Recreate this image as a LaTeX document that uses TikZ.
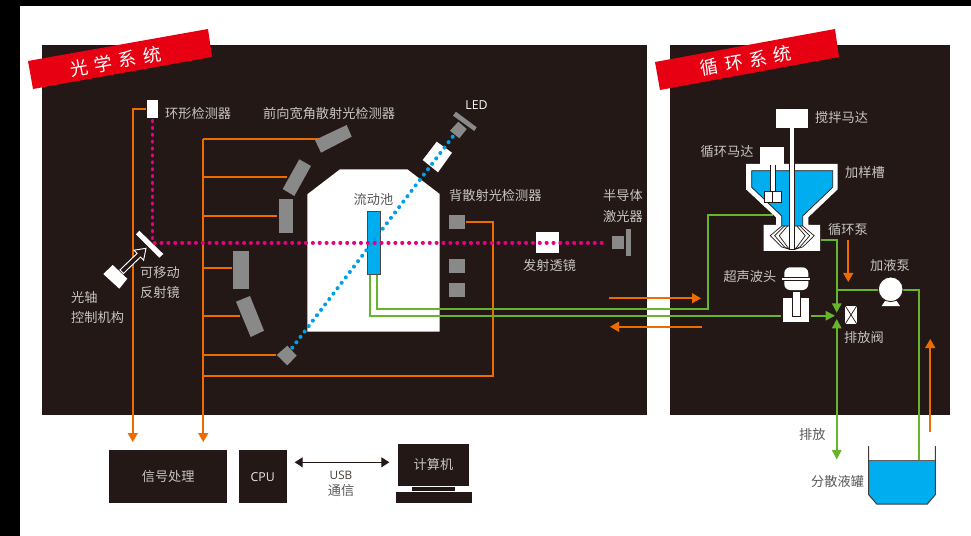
\documentclass[tikz,border=0pt]{standalone}
\usepackage{fontspec}
\setmainfont{Noto Sans CJK SC}
\newfontfamily\latinfont{Open Sans}
\usetikzlibrary{arrows.meta}
\definecolor{panelbg}{HTML}{231815}
\definecolor{tagred}{HTML}{E60012}
\definecolor{detgray}{HTML}{898989}
\definecolor{labgray}{HTML}{C6C4C3}
\definecolor{inkgray}{HTML}{595757}
\definecolor{wireorange}{HTML}{ED6C00}
\definecolor{wiregreen}{HTML}{67B42D}
\definecolor{beamred}{HTML}{E4007F}
\definecolor{beamblue}{HTML}{00A0E9}
\definecolor{cellblue}{HTML}{00AEEF}
\tikzset{
    lab/.style={inner sep=0pt, text=labgray, align=left, font=\fontsize{11.25}{17.9}\selectfont},
    inklab/.style={lab, text=inkgray},
    taglab/.style={inner sep=0pt, text=white, rotate=10, font=\fontsize{15.5}{18}\selectfont},
    panel/.style={fill=panelbg, draw=none},
    tag/.style={fill=tagred, draw=none},
    detector/.style={fill=detgray, draw=none},
    whitepart/.style={fill=white, draw=none},
    outlined/.style={fill=white, draw=panelbg, line width=0.6pt},
    orangeline/.style={draw=wireorange, line width=1.3pt},
    greenline/.style={draw=wiregreen, line width=1.3pt},
    orangetip/.style={-{Triangle[length=0.27cm, width=0.3cm]}},
    greentip/.style={-{Triangle[length=0.28cm, width=0.28cm]}},
    redbeam/.style={draw=beamred, line width=3.4pt, line cap=round, dash pattern=on 0.1pt off 5.77pt},
    bluebeam/.style={draw=beamblue, line width=3.4pt, line cap=round, dash pattern=on 0.1pt off 5.7pt},
    blackbox/.style={fill=panelbg, draw=none, inner sep=0pt, text=labgray, font=\fontsize{11.25}{14}\selectfont},
}
\begin{document}
\begin{tikzpicture}[x=0.03cm, y=-0.03cm]
    \useasboundingbox (0, 0) rectangle (971, 536);
    % page edge.
    \fill[black] (0, 0) rectangle (971, 6);
    \fill[black] (0, 0) rectangle (20, 536);
    % panels.
    \fill[panel] (42, 45) rectangle (647, 415);
    \fill[panel] (670, 45) rectangle (950, 415);
    % red tags.
    \fill[tag] (28, 61) -- (208, 29) -- (212, 57) -- (33, 89) -- cycle;
    \fill[tag] (655, 62) -- (835, 29) -- (839, 57) -- (660, 90) -- cycle;
    \node[taglab] (optics tag) at (115.5, 61.5) {光\hspace{0.2cm}学\hspace{0.2cm}系\hspace{0.2cm}统};
    \node[taglab] (circulation tag) at (746, 61) {循\hspace{0.2cm}环\hspace{0.2cm}系\hspace{0.2cm}统};

    % white cell area.
    \fill[whitepart] (307.3, 194.3) -- (340, 169.3) -- (407.3, 169.3) -- (439.7, 194)
        -- (439.7, 331.7) -- (307.3, 331.7) -- cycle;
    \node[inklab] (flow label) at (373.5, 199) {流动池};

    % orange wires of the ring detector.
    \coordinate (ring wire) at (146, 109.25);
    \coordinate (ring corner) at (132.75, 109.25);
    \coordinate (ring tip) at (132.75, 442);
    \draw[orangeline, orangetip] (ring wire) -- (ring corner) -- (ring tip);
    % orange wires of the other detectors.
    \coordinate (bus top) at (203.25, 139.25);
    \coordinate (bus tip) at (203.25, 442);
    \draw[orangeline, orangetip] (bus top) -- (bus tip);
    \foreach \wy/\wx in {139.25/320, 177.25/287, 216.25/277, 268.25/232, 316.25/240, 355.25/276}
        \draw[orangeline] (bus top |- 0, \wy) -- (\wx, \wy);
    \coordinate (back wire) at (466, 222.25);
    \coordinate (back corner) at (493.25, 222.25);
    \coordinate (back bottom) at (493.25, 376.25);
    \draw[orangeline] (back wire) -- (back corner) -- (back bottom) -- (bus top |- back bottom);

    % forward detectors.
    \fill[detector] (315, 140) -- (346.7, 125) -- (351.7, 136.7) -- (321, 152.7) -- cycle;
    \fill[detector] (299.3, 159.3) -- (311, 166) -- (294.3, 196) -- (282.7, 189) -- cycle;
    \fill[detector] (278.7, 199.3) rectangle (292.7, 233.3);
    \fill[detector] (233, 251) rectangle (248.7, 289.3);
    \fill[detector] (236, 301.7) -- (250, 296) -- (264, 330.7) -- (250.7, 337) -- cycle;
    \fill[detector] (276.7, 355) -- (287.3, 345.7) -- (296.7, 355.7) -- (287.3, 365.3) -- cycle;
    % back detectors.
    \foreach \dy in {215.3, 259, 283.3}
        \fill[detector] (449, \dy) rectangle (464.7, \dy + 13.5);
    % LED parts.
    \fill[detector] (458.3, 121.7) -- (466.7, 129) -- (459.3, 138.3) -- (450, 130.7) -- cycle;
    \fill[detector] (456, 111.7) -- (476.7, 127.3) -- (474.3, 131) -- (453, 115.7) -- cycle;
    \fill[whitepart] (436.7, 141.7) -- (452, 152.7) -- (438, 172.3) -- (422.7, 160) -- cycle;
    % laser.
    \fill[detector] (611.7, 236) rectangle (624, 249.3);
    \fill[detector] (626, 229.3) rectangle (630.7, 256);
    \fill[whitepart] (536, 232.3) rectangle (559.3, 252.7);
    % ring detector, mirror, control box.
    \fill[whitepart] (147, 100) rectangle (158, 118);
    \fill[whitepart] (139.3, 230.7) -- (163.3, 254) -- (159.3, 257.7) -- (136, 234.3) -- cycle;
    \fill[whitepart] (112.7, 265) -- (127.3, 278.7) -- (119.3, 288.7) -- (103.3, 274) -- cycle;
    \draw[draw=white, fill=panelbg, line width=0.8pt] (146, 248.3) -- (143.6, 260.2) -- (140.5, 257)
        -- (123.4, 273.5) -- (120, 269.9) -- (137.1, 253.4) -- (134, 250.2) -- cycle;

    % green lines from the flow cell.
    \coordinate (cell out a) at (370.25, 270);
    \coordinate (cell out b) at (376.75, 270);
    \coordinate (line b corner) at (376.75, 309.25);
    \coordinate (line b up) at (708.25, 309.25);
    \coordinate (line b top) at (708.25, 215.25);
    \coordinate (tank left) at (773, 215.25);
    \coordinate (line a corner) at (370.25, 315.75);
    \coordinate (junction tip a) at (835, 315.75);
    \draw[greenline] (cell out b) -- (line b corner) -- (line b up) -- (line b top) -- (tank left);
    \draw[greenline, greentip] (cell out a) -- (line a corner) -- (junction tip a);
    % flow cell.
    \fill[cellblue, draw=panelbg!80, line width=0.7pt] (367, 211) rectangle (380, 274.3);
    % beams.
    \coordinate (ring foot) at (152.5, 121);
    \coordinate (mirror spot) at (152.5, 242.7);
    \coordinate (laser spot) at (608, 242.7);
    \coordinate (led spot) at (452.7, 136.7);
    \coordinate (led far) at (292.3, 347.7);
    \draw[bluebeam] (led spot) -- (led far);
    \draw[redbeam] (ring foot) -- (mirror spot) -- (laser spot);

    % arrows between the panels.
    \coordinate (upper start) at (609, 298.25);
    \coordinate (upper tip) at (701, 298.25);
    \coordinate (lower start) at (702, 326.75);
    \coordinate (lower tip) at (610, 326.75);
    \draw[orangeline, orangetip] (upper start) -- (upper tip);
    \draw[orangeline, orangetip] (lower start) -- (lower tip);

    % sample tank and pump.
    \fill[whitepart] (746, 164) -- (837.7, 164) -- (837.7, 189.3) -- (808.3, 217.3) -- (808.3, 225)
        -- (820, 225) -- (820, 251) -- (763.7, 251) -- (763.7, 225) -- (776, 225) -- (776, 217.3)
        -- (746, 189.3) -- cycle;
    \draw[fill=cellblue, draw=panelbg, line width=0.6pt] (751.7, 170.7) -- (832.7, 170.7) -- (832.7, 187.3)
        -- (802.7, 216) -- (802.7, 226) -- (781.7, 226) -- (781.7, 216) -- (751.7, 187.3) -- cycle;
    % pump blades.
    \foreach \tip/\top in {22/10.5, 17.5/7.7, 13/4.7} {
        \draw[panelbg, line width=0.6pt] (792.2 - \top, 226) -- (792.2 - \tip, 235.7) -- (792.2 - \top, 247) -- (789.7, 249.3);
        \draw[panelbg, line width=0.6pt] (792.2 + \top, 226) -- (792.2 + \tip, 235.7) -- (792.2 + \top, 247) -- (794.7, 249.3);
    }
    % motors and shafts.
    \draw[outlined] (789.7, 127) rectangle (794.7, 249.3);
    \fill[whitepart] (776.3, 109.3) rectangle (807.7, 127.7);
    \draw[outlined] (770.7, 164) rectangle (775, 191.7);
    \fill[whitepart] (760.3, 146.7) rectangle (784.3, 164.7);
    \draw[outlined] (764, 191) rectangle (772.6, 202.7);
    \draw[outlined] (772.6, 191) rectangle (781.3, 202.7);

    % right side green lines.
    \coordinate (pump out) at (821, 240.25);
    \coordinate (pump corner) at (836.75, 240.25);
    \coordinate (junction tip b) at (836.75, 312.7);
    \coordinate (junction tip c) at (836.75, 319);
    \coordinate (drain tip) at (836.75, 459.5);
    \coordinate (feed corner) at (836.75, 290.25);
    \coordinate (feed turn) at (919.25, 290.25);
    \coordinate (feed foot) at (919.25, 460);
    \draw[greenline, greentip] (pump out) -- (pump corner) -- (junction tip b);
    \draw[greenline, {Triangle[length=0.28cm, width=0.28cm]}-{Triangle[length=0.28cm, width=0.28cm]}] (junction tip c) -- (drain tip);
    \draw[greenline] (feed corner) -- (feed turn) -- (feed foot);
    % orange arrows at right.
    \coordinate (pump arrow start) at (848.25, 240);
    \coordinate (pump arrow tip) at (848.25, 282);
    \coordinate (tank arrow start) at (930.25, 431.7);
    \coordinate (tank arrow tip) at (930.25, 339);
    \draw[orangeline, orangetip] (pump arrow start) -- (pump arrow tip);
    \draw[orangeline, orangetip] (tank arrow start) -- (tank arrow tip);

    % ultrasonic probe.
    \fill[panelbg] (781.3, 298.3) rectangle (811, 321.7);
    \fill[whitepart] (783.3, 298.3) rectangle (809, 321.7);
    \fill[whitepart, rounded corners=5pt] (784.3, 267.3) rectangle (808.3, 290);
    \draw[outlined] (781.3, 277.3) rectangle (810.7, 280.7);
    \draw[outlined] (792.7, 291.7) rectangle (800, 316.7);
    % liquid pump.
    \fill[whitepart] (881.7, 306) -- (885, 301) -- (896.7, 301) -- (900, 306) -- cycle;
    \draw[fill=white, draw=panelbg, line width=0.7pt] (890.7, 289.3) circle (12.3);
    % valve.
    \draw[outlined] (844.7, 305) rectangle (857.3, 324.7);
    \draw[panelbg, line width=0.6pt] (844.7, 305) -- (857.3, 324.7);
    \draw[panelbg, line width=0.6pt] (857.3, 305) -- (844.7, 324.7);

    % dispersion tank.
    \fill[cellblue] (868.7, 460) -- (935.3, 460) -- (935.3, 494.7) -- (927.3, 504) -- (876.7, 504) -- (868.7, 494.7) -- cycle;
    \draw[panelbg!85, line width=0.85pt] (868.7, 446) -- (868.7, 494.7) -- (876.7, 504) -- (927.3, 504)
        -- (935.3, 494.7) -- (935.3, 446);
    \draw[panelbg!70, line width=0.6pt] (868.7, 460) -- (935.3, 460);

    % bottom blocks.
    \node[blackbox, minimum width=3.53cm, minimum height=1.59cm] (signal box) at (168.2, 476.8) {信号处理};
    \node[blackbox, text=white!92!black, minimum width=1.44cm, minimum height=1.59cm, font=\latinfont\fontsize{10.5}{12}\selectfont] (cpu box) at (262.7, 476.8) {CPU};
    \node[blackbox, minimum width=2.15cm, minimum height=1.25cm] (screen box) at (433.5, 464.8) {计算机};
    \fill[panelbg] (412.3, 487.3) rectangle (455, 491);
    \fill[panelbg] (395.7, 492.3) rectangle (471.7, 503.3);
    \coordinate (usb left) at (294.7, 462.3);
    \coordinate (usb right) at (389.3, 462.3);
    \draw[panelbg, line width=0.9pt, {Triangle[length=0.24cm, width=0.3cm]}-{Triangle[length=0.24cm, width=0.3cm]}] (usb left) -- (usb right);
    \node[inklab, text=panelbg!85, font=\latinfont\fontsize{10}{12}\selectfont] (usb label) at (341, 475) {USB};
    \node[inklab] (usb label two) at (341, 491) {通信};

    % labels in the optical panel.
    \node[lab, anchor=west] (ring label) at (165, 113) {环形检测器};
    \node[lab, anchor=west] (forward label) at (263, 113.5) {前向宽角散射光检测器};
    \node[lab, anchor=west] (back label) at (449, 195) {背散射光检测器};
    \node[lab, anchor=west] (mirror label) at (140, 282.5) {可移动\\反射镜};
    \node[lab, anchor=west] (axis label) at (71, 307.5) {光轴\\控制机构};
    \node[lab, anchor=west] (laser label) at (603, 206) {半导体\\激光器};
    \node[lab, anchor=west] (lens label) at (523, 265) {发射透镜};
    \node[lab, text=white, anchor=center, font=\latinfont\fontsize{10.5}{12}\selectfont] (led label) at (476.5, 105.5) {LED};
    % labels in the circulation panel.
    \node[lab, anchor=west] (stir label) at (815, 117.7) {搅拌马达};
    \node[lab, anchor=west] (motor label) at (700.5, 152) {循环马达};
    \node[lab, anchor=west] (sample label) at (845, 172) {加样槽};
    \node[lab, anchor=west] (circ label) at (828, 230) {循环泵};
    \node[lab, anchor=west] (sonic label) at (723.3, 277) {超声波头};
    \node[lab, anchor=west] (feed label) at (870, 265) {加液泵};
    \node[lab, anchor=west] (valve label) at (844, 337) {排放阀};
    % labels below the panels.
    \node[inklab, anchor=west] (drain label) at (799, 434) {排放};
    \node[inklab, anchor=west] (dispersion label) at (811, 481) {分散液罐};
\end{tikzpicture}
\end{document}
